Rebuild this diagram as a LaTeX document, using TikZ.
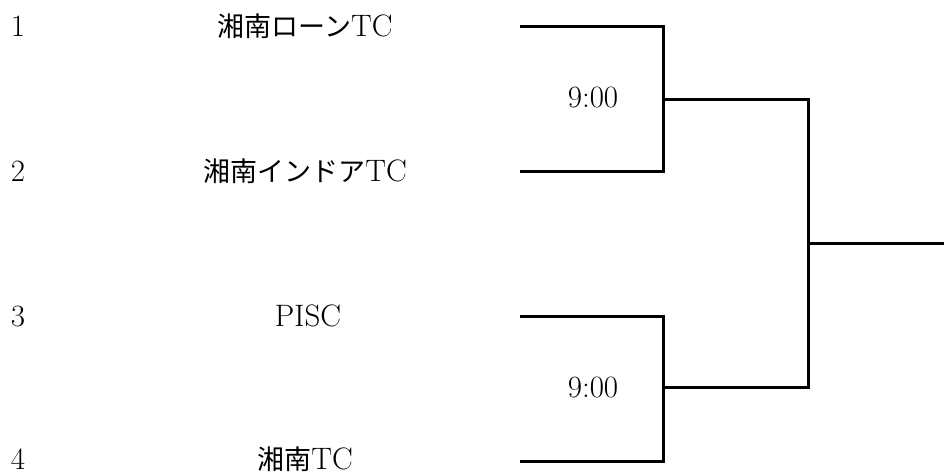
\documentclass[tikz,border=0pt]{standalone}
\usepackage{fontspec}
\newfontfamily\cjk{Noto Sans CJK JP}
\begin{document}
\begin{tikzpicture}[x=1pt,y=-1pt,
  txt/.style={inner sep=0pt,font=\fontsize{31}{36}\selectfont},
  br/.style={line width=3pt,line cap=rect,line join=miter}]
\useasboundingbox (0,0) rectangle (944,474);
% numbers
\node[txt] (n1) at (18,26) {1};
\node[txt] (n2) at (18,171) {2};
\node[txt] (n3) at (18,316) {3};
\node[txt] (n4) at (18,459) {4};
% team names
\node[txt] (t1) at (305,26) {{\cjk\fontsize{27}{34}\selectfont 湘南ローン}TC};
\node[txt] (t2) at (305,171) {{\cjk\fontsize{27}{34}\selectfont 湘南インドア}TC};
\node[txt] (t3) at (308,316) {PISC};
\node[txt] (t4) at (305,459) {{\cjk\fontsize{27}{34}\selectfont 湘南}TC};
% times
\node[txt] (m1) at (593,98) {9:00};
\node[txt] (m2) at (593,387) {9:00};
% bracket coordinates
\coordinate (a1) at (521,26);
\coordinate (a2) at (521,171);
\coordinate (a3) at (521,316);
\coordinate (a4) at (521,461);
\coordinate (v1t) at (663,26);
\coordinate (v1b) at (663,171);
\coordinate (v2t) at (663,316);
\coordinate (v2b) at (663,461);
\coordinate (w1) at (663,99);
\coordinate (w2) at (663,387);
\coordinate (f1) at (808,99);
\coordinate (f2) at (808,387);
\coordinate (fm) at (808,243);
\coordinate (end) at (944,243);
\draw[br] (a1) -- (v1t) -- (v1b) -- (a2);
\draw[br] (a3) -- (v2t) -- (v2b) -- (a4);
\draw[br] (w1) -- (f1) -- (f2) -- (w2);
\draw[br] (fm) -- (end);
\end{tikzpicture}
\end{document}
